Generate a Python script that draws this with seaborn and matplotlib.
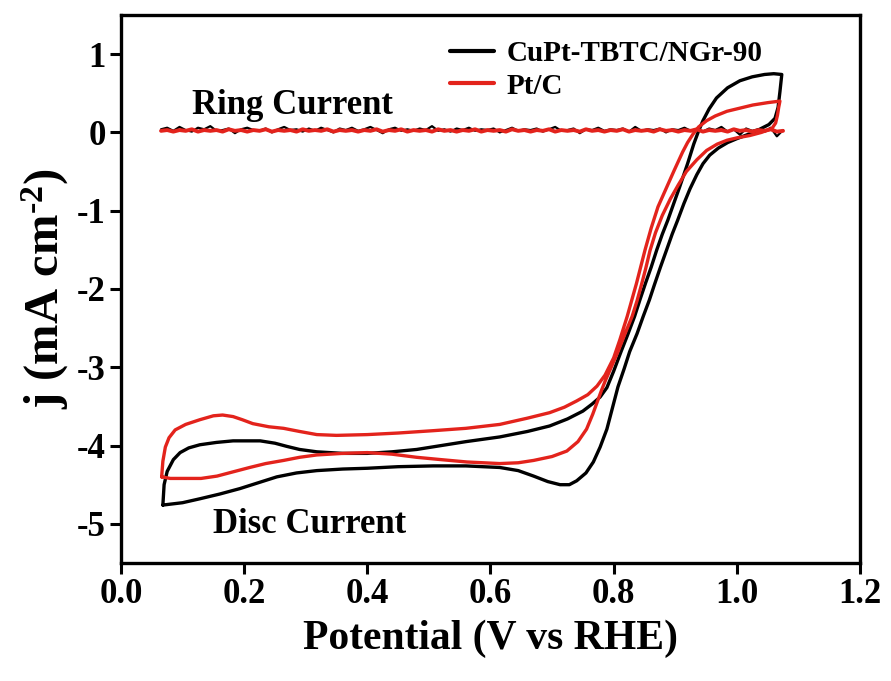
import numpy as np
import pandas as pd
import matplotlib
matplotlib.use("Agg")
import matplotlib.pyplot as plt
import seaborn as sns

# disc current loops, black = CuPt-TBTC/NGr-90, red = Pt/C
black_x = [0.068, 0.100, 0.128, 0.160, 0.193, 0.225, 0.253, 0.285, 0.318, 0.360, 0.400, 0.450, 0.507, 0.560,
           0.615, 0.645, 0.670, 0.693, 0.713, 0.728, 0.740, 0.755, 0.767, 0.778, 0.789, 0.798, 0.807,
           0.817, 0.826, 0.838, 0.848, 0.858, 0.866, 0.876, 0.886, 0.895, 0.904, 0.914, 0.924, 0.935,
           0.945, 0.956, 0.970, 0.985, 1.000, 1.020, 1.037, 1.052, 1.062, 1.067, 1.070, 1.073,
           1.060, 1.045, 1.025, 1.005, 0.985, 0.967, 0.955, 0.945, 0.938, 0.930, 0.920, 0.907, 0.897,
           0.888, 0.879, 0.870, 0.861, 0.852, 0.843, 0.834, 0.823, 0.812, 0.800, 0.789, 0.778, 0.765,
           0.750, 0.725, 0.696, 0.660,
           0.615, 0.560, 0.520, 0.480, 0.440, 0.400, 0.360, 0.318, 0.290, 0.269, 0.250, 0.226, 0.182,
           0.155, 0.128, 0.110, 0.096, 0.085, 0.075, 0.070, 0.068]
black_y = [-4.76, -4.73, -4.68, -4.62, -4.55, -4.47, -4.40, -4.35, -4.32, -4.30, -4.29, -4.27, -4.26, -4.26,
           -4.28, -4.32, -4.39, -4.46, -4.50, -4.50, -4.45, -4.35, -4.21, -4.02, -3.79, -3.52, -3.25,
           -3.02, -2.80, -2.57, -2.35, -2.14, -1.95, -1.72, -1.50, -1.30, -1.12, -0.91, -0.72, -0.54,
           -0.40, -0.29, -0.20, -0.13, -0.08, -0.02, 0.04, 0.10, 0.18, 0.32, 0.52, 0.74,
           0.75, 0.74, 0.71, 0.66, 0.57, 0.44, 0.30, 0.15, 0.02, -0.15, -0.40, -0.70, -0.92,
           -1.12, -1.30, -1.50, -1.72, -1.92, -2.13, -2.35, -2.58, -2.80, -3.05, -3.26, -3.38, -3.47,
           -3.56, -3.66, -3.75, -3.82,
           -3.89, -3.95, -4.00, -4.05, -4.08, -4.10, -4.10, -4.08, -4.05, -4.01, -3.97, -3.94, -3.94,
           -3.96, -3.99, -4.03, -4.09, -4.18, -4.33, -4.50, -4.76]

red_x = [0.066, 0.080, 0.100, 0.130, 0.156, 0.180, 0.209, 0.235, 0.264, 0.290, 0.318, 0.360, 0.400, 0.440,
         0.480, 0.520, 0.562, 0.615, 0.645, 0.670, 0.700, 0.724, 0.742, 0.756,
         0.766, 0.773, 0.780, 0.786, 0.796, 0.807, 0.818, 0.830, 0.838, 0.845, 0.852, 0.859, 0.868,
         0.879, 0.892, 0.905, 0.918, 0.935, 0.951, 0.968, 0.984, 1.000, 1.021, 1.040, 1.057, 1.063,
         1.066, 1.068, 1.070,
         1.050, 1.026, 1.005, 0.984, 0.965, 0.951, 0.938, 0.929, 0.920, 0.912, 0.898, 0.885, 0.872,
         0.861, 0.851, 0.837, 0.822, 0.810, 0.800, 0.786, 0.773, 0.758, 0.740, 0.720, 0.696, 0.660,
         0.615, 0.560, 0.507, 0.450, 0.400, 0.350, 0.318, 0.290, 0.264, 0.240, 0.214, 0.197, 0.182,
         0.165, 0.150, 0.128, 0.105, 0.088, 0.078, 0.072, 0.068, 0.066]
red_y = [-4.40, -4.42, -4.42, -4.42, -4.39, -4.34, -4.28, -4.23, -4.19, -4.15, -4.12, -4.10, -4.09, -4.11,
         -4.15, -4.18, -4.21, -4.23, -4.22, -4.19, -4.14, -4.07, -3.95, -3.79,
         -3.60, -3.45, -3.30, -3.18, -3.00, -2.80, -2.58, -2.35, -2.15, -1.95, -1.74, -1.51, -1.28,
         -1.06, -0.85, -0.67, -0.50, -0.35, -0.23, -0.15, -0.10, -0.07, -0.04, 0.00, 0.05, 0.12,
         0.22, 0.32, 0.40,
         0.38, 0.35, 0.31, 0.27, 0.21, 0.15, 0.07, -0.02, -0.13, -0.25, -0.49, -0.72, -0.95,
         -1.22, -1.50, -1.93, -2.35, -2.65, -2.88, -3.10, -3.24, -3.35, -3.43, -3.51, -3.58, -3.65,
         -3.73, -3.78, -3.81, -3.84, -3.86, -3.87, -3.86, -3.82, -3.78, -3.76, -3.72, -3.67, -3.63,
         -3.61, -3.62, -3.67, -3.73, -3.80, -3.90, -4.02, -4.20, -4.40]

# ring current (noisy, close to zero)
ring_x = [0.065, 0.075, 0.085, 0.095, 0.105, 0.115, 0.125, 0.135, 0.145, 0.155,
          0.165, 0.175, 0.185, 0.195, 0.205, 0.215, 0.225, 0.235, 0.245, 0.255,
          0.265, 0.275, 0.285, 0.295, 0.305, 0.315, 0.325, 0.335, 0.345, 0.355,
          0.365, 0.375, 0.385, 0.395, 0.405, 0.415, 0.425, 0.435, 0.445, 0.455,
          0.465, 0.475, 0.485, 0.495, 0.505, 0.515, 0.525, 0.535, 0.545, 0.555,
          0.565, 0.575, 0.585, 0.595, 0.605, 0.615, 0.625, 0.635, 0.645, 0.655,
          0.665, 0.675, 0.685, 0.695, 0.705, 0.715, 0.725, 0.735, 0.745, 0.755,
          0.765, 0.775, 0.785, 0.795, 0.805, 0.815, 0.825, 0.835, 0.845, 0.855,
          0.865, 0.875, 0.885, 0.895, 0.905, 0.915, 0.925, 0.935, 0.945, 0.955,
          0.965, 0.975, 0.985, 0.995, 1.005, 1.015, 1.025, 1.035, 1.045, 1.055,
          1.065, 1.075]
ring_black = [0.04, 0.06, 0.02, 0.07, 0.03, 0.01, 0.06, 0.04, 0.08, 0.02,
              0.03, 0.05, -0.01, 0.04, 0.06, 0.03, 0.02, 0.05, 0.00, 0.04,
              0.07, 0.03, 0.04, 0.01, 0.05, 0.02, 0.06, 0.03, 0.00, 0.05,
              0.03, 0.06, 0.02, 0.04, 0.07, 0.03, -0.01, 0.04, 0.06, 0.02,
              0.04, 0.02, 0.05, 0.03, 0.08, 0.02, 0.04, 0.01, 0.05, 0.03,
              0.06, 0.02, 0.04, 0.03, 0.05, 0.00, 0.03, 0.06, 0.02, 0.04,
              0.03, 0.05, 0.01, 0.04, 0.07, 0.02, 0.03, 0.05, -0.01, 0.04,
              0.03, 0.06, 0.02, 0.04, 0.03, 0.05, 0.01, 0.07, 0.02, 0.04,
              0.03, 0.05, 0.00, 0.04, 0.03, 0.06, 0.02, 0.04, 0.01, 0.05,
              0.03, 0.07, 0.01, 0.04, -0.03, 0.05, 0.02, 0.04, 0.01, 0.06,
              -0.05, 0.03]
ring_red = [0.02, 0.03, 0.01, 0.03, 0.02, 0.04, 0.01, 0.03, 0.02, 0.03,
            0.01, 0.04, 0.02, 0.03, 0.01, 0.03, 0.02, 0.04, 0.01, 0.03,
            0.02, 0.03, 0.01, 0.04, 0.02, 0.03, 0.02, 0.04, 0.01, 0.03,
            0.02, 0.03, 0.01, 0.03, 0.02, 0.04, 0.01, 0.03, 0.02, 0.04,
            0.01, 0.03, 0.02, 0.03, 0.01, 0.04, 0.02, 0.03, 0.01, 0.03,
            0.02, 0.04, 0.01, 0.03, 0.02, 0.03, 0.01, 0.04, 0.02, 0.03,
            0.01, 0.03, 0.02, 0.04, 0.01, 0.03, 0.02, 0.03, 0.01, 0.04,
            0.02, 0.03, 0.01, 0.03, 0.02, 0.04, 0.01, 0.03, 0.02, 0.03,
            0.01, 0.04, 0.02, 0.03, 0.01, 0.03, 0.02, 0.04, 0.01, 0.03,
            0.02, 0.03, 0.01, 0.04, 0.02, 0.03, 0.01, 0.03, 0.02, 0.04,
            0.01, 0.02]

x_ticks = [0.0, 0.2, 0.4, 0.6, 0.8, 1.0, 1.2]
y_ticks = [1, 0, -1, -2, -3, -4, -5]

RED = "#e3231c"

sns.set_theme(style="ticks", rc={"text.color": "black", "axes.labelcolor": "black",
                                 "xtick.color": "black", "ytick.color": "black",
                                 "axes.edgecolor": "black"})
plt.rcParams["font.family"] = ["Liberation Serif", "DejaVu Serif"]
plt.rcParams["font.weight"] = "bold"
plt.rcParams["axes.labelweight"] = "bold"
plt.rcParams["mathtext.fontset"] = "custom"
plt.rcParams["mathtext.rm"] = "Liberation Serif:bold"
plt.rcParams["mathtext.bf"] = "Liberation Serif:bold"
plt.rcParams["mathtext.it"] = "Liberation Serif:bold"

fig = plt.figure(figsize=(8.91, 6.81), dpi=100)
ax = fig.add_axes([0.1358, 0.1733, 0.8294, 0.8047])

sns.lineplot(x=ring_x, y=ring_black, sort=False, estimator=None, color="black", lw=1.6, ax=ax)
sns.lineplot(x=black_x, y=black_y, sort=False, estimator=None, color="black", lw=2.4, ax=ax,
             label="CuPt-TBTC/NGr-90")
sns.lineplot(x=ring_x, y=ring_red, sort=False, estimator=None, color=RED, lw=2.8, ax=ax)
sns.lineplot(x=red_x, y=red_y, sort=False, estimator=None, color=RED, lw=2.4, ax=ax, label="Pt/C")

ax.set_xlim(0.0, 1.2)
ax.set_ylim(-5.5, 1.5)
ax.set_xticks(x_ticks)
ax.set_xticklabels(["%.1f" % v for v in x_ticks])
ax.set_yticks(y_ticks)
ax.set_yticklabels(["%d" % v for v in y_ticks])

ax.tick_params(axis="both", direction="out", length=8, width=2.2, labelsize=25, pad=3,
               top=False, right=False, colors="black")
for lab in ax.get_xticklabels() + ax.get_yticklabels():
    lab.set_fontweight("bold")
for sp in ax.spines.values():
    sp.set_visible(True)
    sp.set_linewidth(2.4)
    sp.set_color("black")

ax.set_xlabel("Potential (V vs RHE)", fontsize=30, fontweight="bold", labelpad=6, color="black")
ax.set_ylabel("j (mA cm$^{\\text{-2}}$)", fontsize=35, fontweight="bold", labelpad=4, color="black")

ax.text(0.115, 0.24, "Ring Current", fontsize=25, fontweight="bold", ha="left", va="baseline")
ax.text(0.149, -5.12, "Disc Current", fontsize=25, fontweight="bold", ha="left", va="baseline")

leg = ax.legend(loc="center left", bbox_to_anchor=(0.445, 0.900), frameon=False, fontsize=21,
                handlelength=1.5, handletextpad=0.45, labelspacing=0.2, borderpad=0, borderaxespad=0)
for line in leg.get_lines():
    line.set_linewidth(3)
for t in leg.get_texts():
    t.set_fontweight("bold")
    t.set_color("black")

fig.savefig("out.png", dpi=100)
